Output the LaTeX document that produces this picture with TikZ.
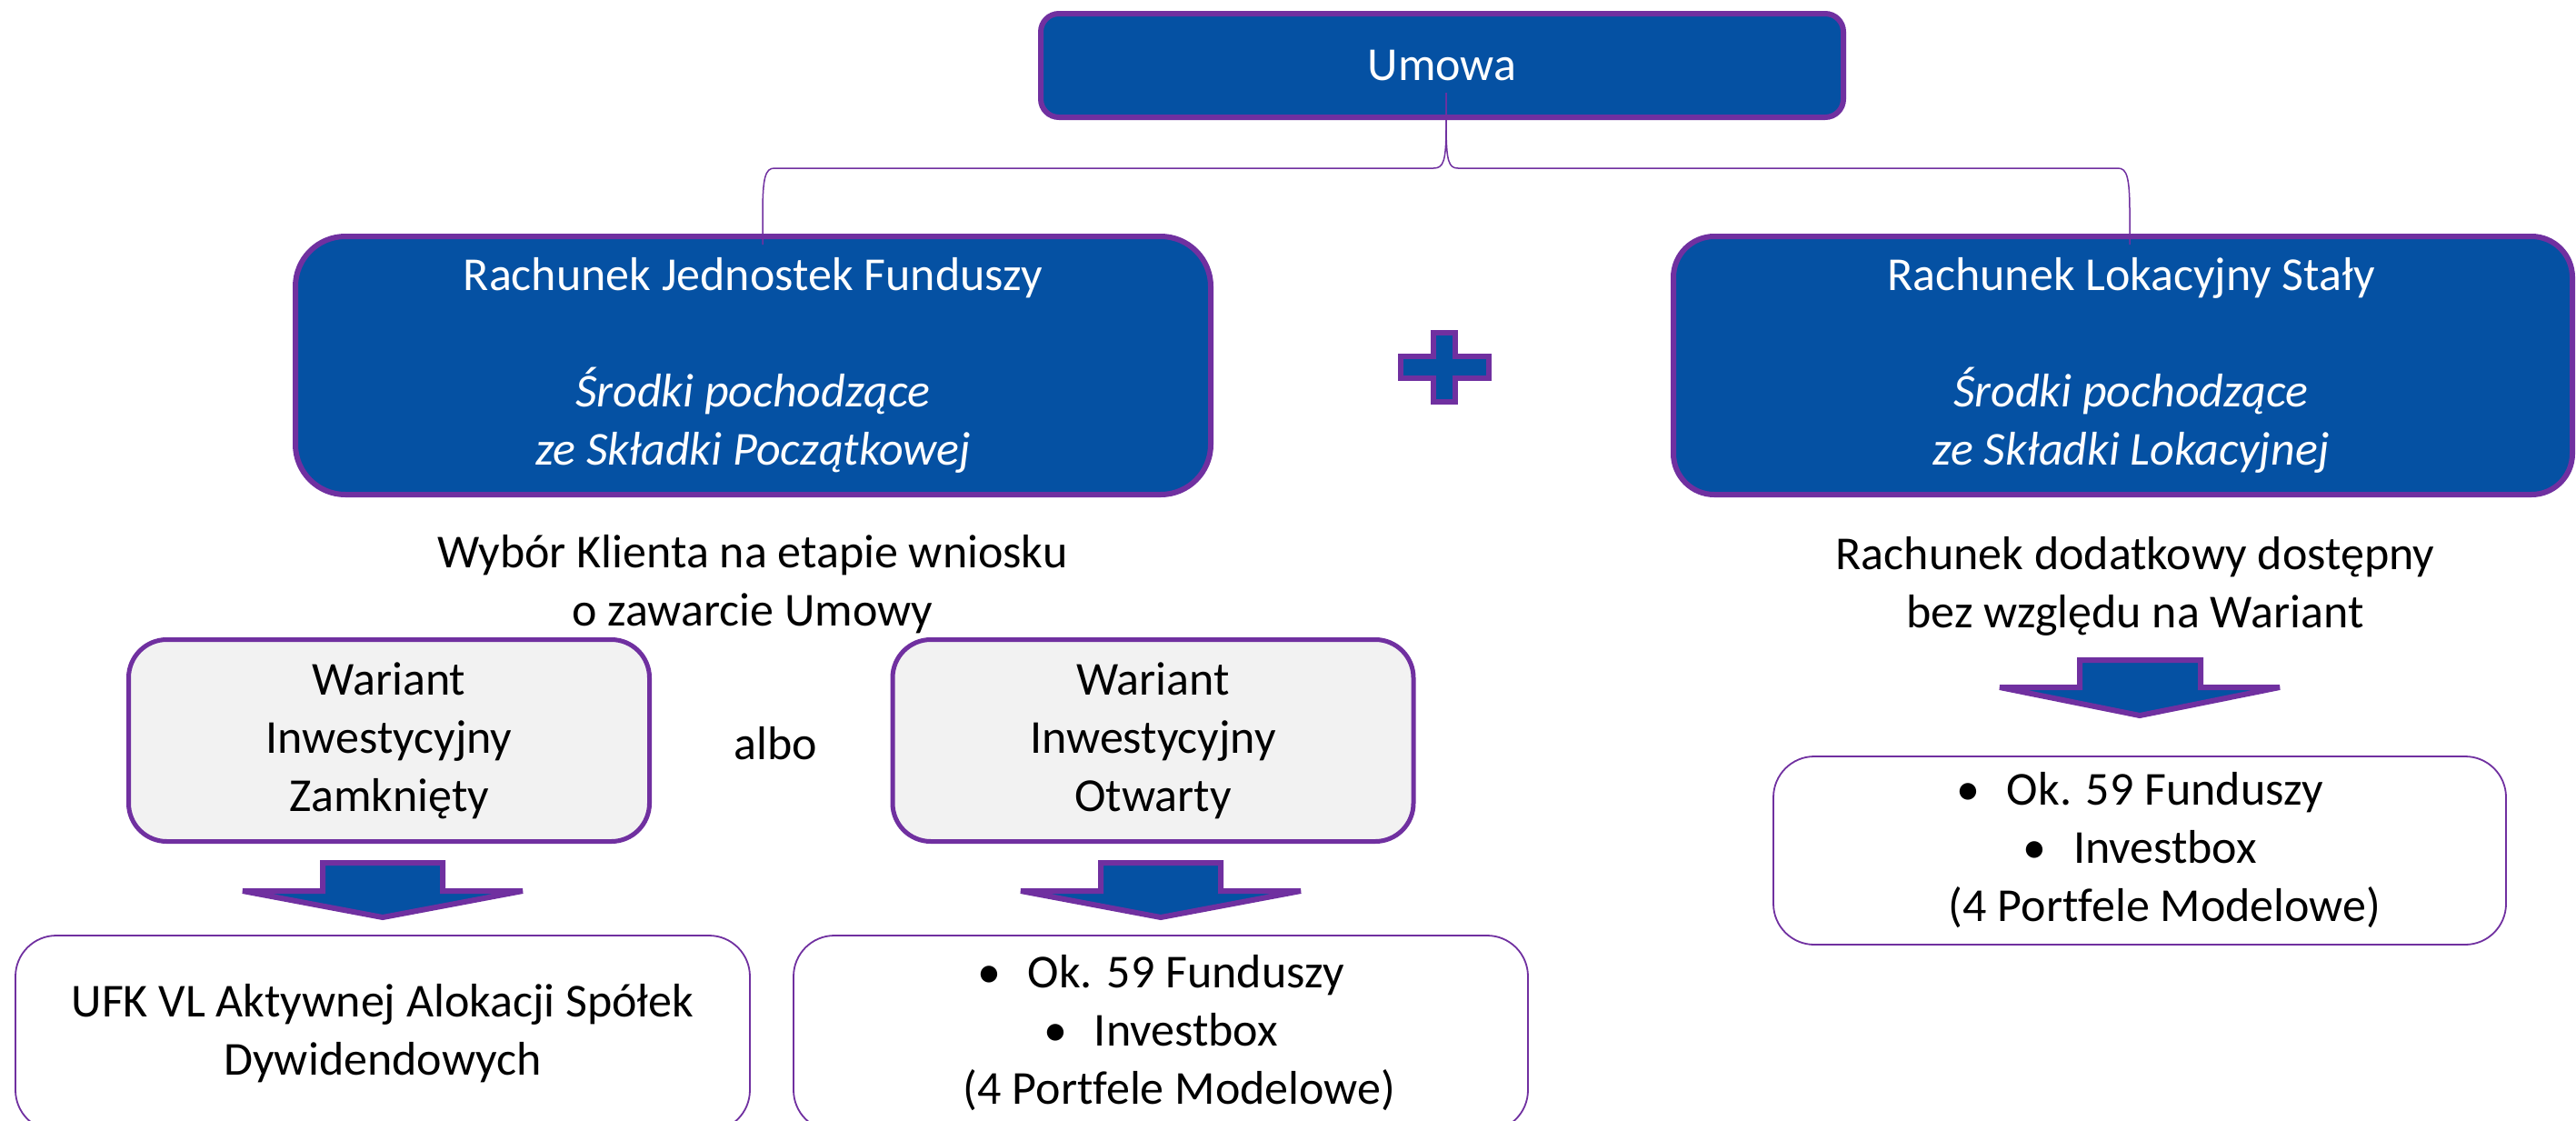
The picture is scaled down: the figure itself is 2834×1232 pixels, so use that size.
\documentclass[tikz,border=0pt]{standalone}
\usepackage{fontspec}
\setmainfont[Ligatures=NoCommon]{Carlito}
\definecolor{ublue}{HTML}{0551A3}
\definecolor{upurple}{HTML}{7030A0}
\definecolor{lgray}{HTML}{F2F2F2}
\begin{document}
\begin{tikzpicture}[x=1pt,y=-1pt,
  every node/.style={font=\fontsize{52}{64}\selectfont, inner sep=0pt, align=center},
  bluebox/.style={draw=upurple, fill=ublue, line width=6pt, text=white, rounded corners=#1},
  graybox/.style={draw=upurple, fill=lgray, line width=5pt, rounded corners=42pt,
                  minimum width=573pt, minimum height=222pt},
  whitebox/.style={draw=upurple, fill=white, line width=1.8pt, rounded corners=45pt},
  conn/.style={draw=upurple, line width=1.5pt},
  blockarrow/.style={draw=upurple, fill=ublue, line width=6pt, miter limit=2},
]
\useasboundingbox (0,0) rectangle (2834,1232);
\clip (0,0) rectangle (2834,1232);

% top
\node[bluebox=20pt, minimum width=883pt, minimum height=114pt] (umowa) at (1586.5,72) {Umowa};

% main accounts
\node[bluebox=55pt, minimum width=1007pt, minimum height=284pt] (rjf) at (828.5,402)
  {Rachunek Jednostek Funduszy\\[64pt]\itshape Środki pochodzące\\\itshape ze Składki Początkowej};
\node[bluebox=45pt, minimum width=989pt, minimum height=284pt] (rls) at (2335.5,402)
  {\hspace*{18pt}Rachunek Lokacyjny Stały\\[64pt]\itshape\hspace*{18pt}Środki pochodzące\\\itshape\hspace*{18pt}ze Składki Lokacyjnej};

% plus sign
\draw[blockarrow] (1577,366) -- (1601,366) -- (1601,392) -- (1638,392) -- (1638,416)
  -- (1601,416) -- (1601,442) -- (1577,442) -- (1577,416) -- (1541,416) -- (1541,392)
  -- (1577,392) -- cycle;

% brace connector
\coordinate (btop) at ([xshift=4.5pt,yshift=30pt]umowa.south);
\coordinate (jl) at ([xshift=10.5pt,yshift=-12pt]rjf.north);
\coordinate (jr) at ([xshift=7.5pt,yshift=-12pt]rls.north);
\draw[conn] (btop) -- (1591,138) .. controls (1591,178) and (1588,185) .. (1577,185)
  -- (852,185) .. controls (842,185) and (839,195) .. (839,235) -- (jl);
\draw[conn] (btop) -- (1591,138) .. controls (1591,178) and (1594,185) .. (1604,185)
  -- (2330,185) .. controls (2340,185) and (2343,195) .. (2343,235) -- (jr);

% captions
\node (wyb) at (828,643) {Wybór Klienta na etapie wniosku\\o zawarcie Umowy};
\node (rdd) at (2349,645) {Rachunek dodatkowy dostępny\\bez względu na Wariant};

% variants
\node[graybox] (wiz) at (428,814.5) {Wariant\\Inwestycyjny\\Zamknięty};
\node[graybox] (wio) at (1268.5,814.5) {Wariant\\Inwestycyjny\\Otwarty};
\node (albo) at (853,818) {albo};

% block arrows
\draw[blockarrow] (355,949) -- (487,949) -- (487,980) -- (575,980) -- (421,1009)
  -- (267,980) -- (355,980) -- cycle;
\draw[blockarrow] (1211,949) -- (1343,949) -- (1343,980) -- (1431,980) -- (1277,1009)
  -- (1123,980) -- (1211,980) -- cycle;
\draw[blockarrow] (2288,726) -- (2421,726) -- (2421,756) -- (2508,756) -- (2354,787)
  -- (2200,756) -- (2288,756) -- cycle;

% result boxes
\node[whitebox, minimum width=808pt, minimum height=215pt] (ufk) at (421,1136.5)
  {UFK VL Aktywnej Alokacji Spółek\\Dywidendowych};
\node[whitebox, minimum width=808pt, minimum height=215pt] (okl) at (1277,1136.5)
  {\textbullet\hspace{30pt}Ok. 59 Funduszy\\\textbullet\hspace{30pt}Investbox\\\hspace*{41pt}(4 Portfele Modelowe)};
\node[whitebox, minimum width=806pt, minimum height=207pt] (okr) at (2354,935.5)
  {\textbullet\hspace{30pt}Ok. 59 Funduszy\\\textbullet\hspace{30pt}Investbox\\\hspace*{55pt}(4 Portfele Modelowe)};
\end{tikzpicture}
\end{document}
